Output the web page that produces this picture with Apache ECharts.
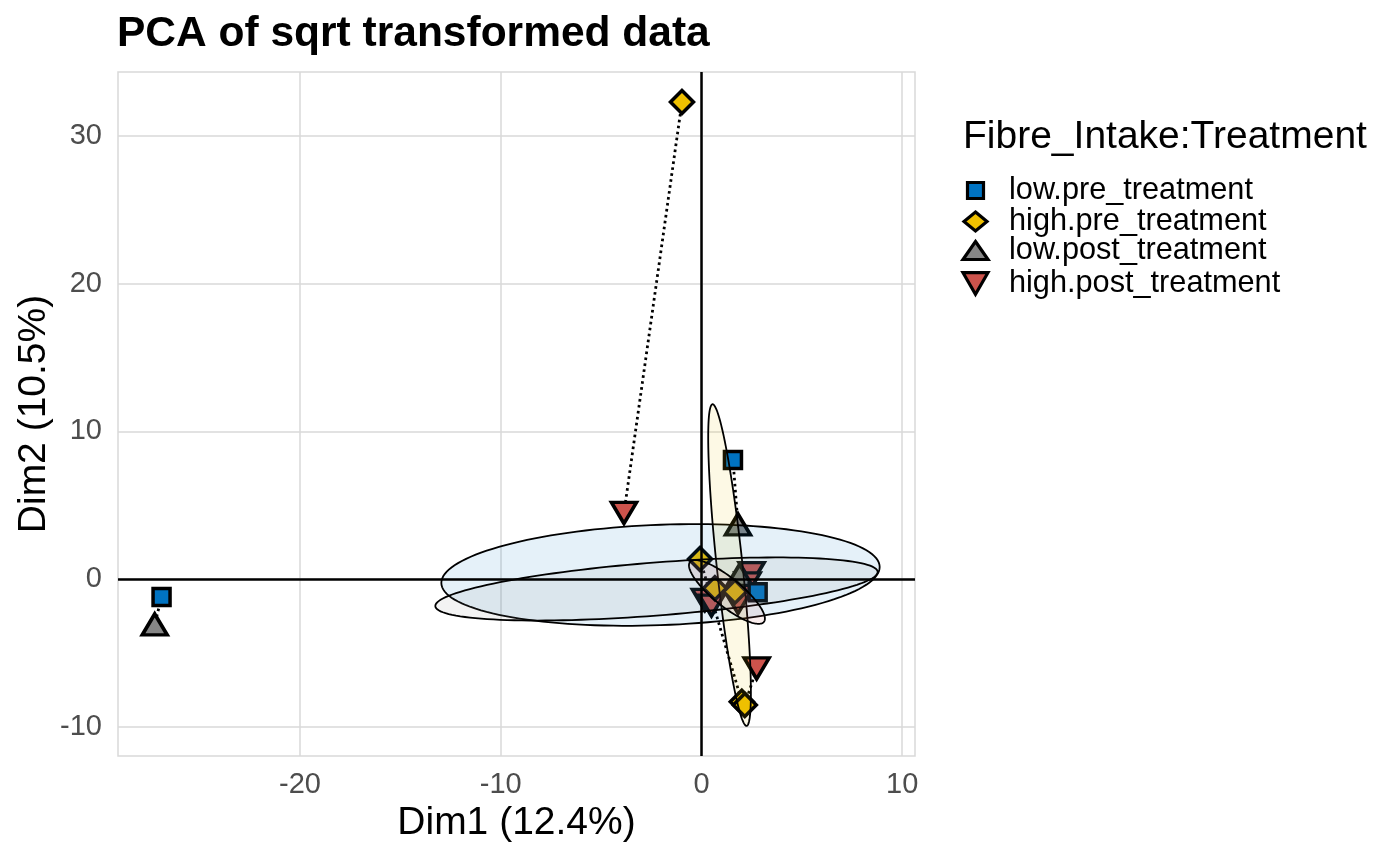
<!DOCTYPE html>
<html>
<head>
<meta charset="utf-8">
<title>PCA of sqrt transformed data</title>
<script src="https://cdn.jsdelivr.net/npm/echarts@6/dist/echarts.min.js"></script>
<style>
  html, body { margin: 0; padding: 0; background: #fff; }
  #main { width: 1400px; height: 860px; }
</style>
</head>
<body>
<div id="main"></div>
<script>
// groups, in legend order
const groupNames = ['low.pre_treatment', 'high.pre_treatment', 'low.post_treatment', 'high.post_treatment'];
const groupColors = ['#0073C2', '#EFC000', '#868686', '#CD534C'];
const groupSymbols = ['rect', 'diamond', 'triangle', 'triangle'];
const groupRotate = [0, 0, 0, 180];
// legend icons (down triangle drawn as a path, legend does not rotate it)
const legendIcons = ['rect', 'diamond', 'triangle', 'path://M0,0L10,0L5,8.66Z'];

// points: [Dim1, Dim2, subject]
const lowPre = [[-26.9, -1.22, 's1'], [1.57, 8.06, 's2'], [2.8, -0.9, 'a1']];
const highPre = [[-0.97, 32.3, 's4'], [-0.07, 1.35, 's5'], [0.67, -0.63, 'b1'], [1.67, -0.86, 'b2'], [2.01, -8.32, 's5'], [2.16, -8.53, 's6']];
const lowPost = [[-27.24, -3.08, 's1'], [1.82, 3.69, 's2'], [1.9, 0.27, 'c1']];
const highPost = [[-3.86, 4.47, 's4'], [2.75, -6.06, 's6'], [2.5, 0.4, 'd1'], [2.3, -0.3, 'd2'], [0.17, -1.42, 'd3'], [0.5, -1.8, 'd4'], [1.82, -1.62, 'd5']];
const groupPoints = [lowPre, highPre, lowPost, highPost];

// axis ticks
const xTicks = [-20, -10, 0, 10];
const yTicks = [-10, 0, 10, 20, 30];

// confidence ellipses per group: centre, semi-axis a, conjugate semi-axis b
const ellipseCentre = [[-2.04, 0.27], [1.40, 0.94], [-2.24, -0.68], [1.27, -0.88]];
const ellipseA = [[10.92, 0.54], [-0.85, 10.89], [11.02, 1.15], [1.84, -2.03]];
const ellipseB = [[0, 3.4], [0.64, 0.09], [0, 1.8], [-0.44, -0.74]];

const font = '"Liberation Sans", Arial, Helvetica, sans-serif';
const markerSize = [[17, 17], [23, 23], [25, 21], [25, 21]];
const legendSize = [[16, 16], [23, 19], [25, 18], [25, 21.6]];
const legendRowY = [188, 219, 248, 281];

// dotted pre -> post paths, joined by subject
const bySubject = {};
groupPoints.forEach(pts => pts.forEach(p => {
  (bySubject[p[2]] = bySubject[p[2]] || []).push([p[0], p[1]]);
}));
const pathData = [];
for (const key in bySubject) {
  if (bySubject[key].length > 1) pathData.push({ coords: bySubject[key] });
}

function renderEllipse(params, api) {
  const i = api.value(2);
  const c = ellipseCentre[i], a = ellipseA[i], b = ellipseB[i];
  const pts = [];
  for (let k = 0; k < 144; k++) {
    const t = 2 * Math.PI * k / 144;
    pts.push(api.coord([
      c[0] + a[0] * Math.cos(t) + b[0] * Math.sin(t),
      c[1] + a[1] * Math.cos(t) + b[1] * Math.sin(t)
    ]));
  }
  return {
    type: 'polygon',
    shape: { points: pts },
    style: { fill: groupColors[i], fillOpacity: 0.1, stroke: '#000', lineWidth: 1.8 }
  };
}

// draw order: red, grey, yellow, blue
const drawOrder = [3, 2, 1, 0];
const scatterSeries = drawOrder.map(i => ({
  type: 'scatter',
  name: groupNames[i],
  data: groupPoints[i].map(p => [p[0], p[1]]),
  symbol: groupSymbols[i],
  symbolSize: markerSize[i],
  symbolRotate: groupRotate[i],
  itemStyle: { color: groupColors[i], borderColor: '#000', borderWidth: 3.5, opacity: 1 },
  z: 3,
  silent: true
}));

const legends = groupNames.map((name, i) => ({
  data: [{ name: name, icon: legendIcons[i] }],
  orient: 'vertical',
  left: 975.5 - legendSize[i][0] / 2 - 1.6,
  top: legendRowY[i] - 13,
  padding: 0,
  itemWidth: legendSize[i][0],
  itemHeight: legendSize[i][1],
  symbolRotate: 0,
  itemStyle: { color: groupColors[i], borderColor: '#000', borderWidth: 3.2 },
  selectedMode: false,
  textStyle: {
    fontSize: 30.7, color: '#000', fontFamily: font,
    padding: [0, 0, 0, 1009 - (975.5 + legendSize[i][0] / 2 + 5)]
  }
}));

const chart = echarts.init(document.getElementById('main'));
chart.setOption({
  animation: false,
  backgroundColor: '#fff',
  textStyle: { fontFamily: font },
  title: [
    { text: 'PCA of sqrt transformed data', left: 117, top: 13, padding: 0,
      textStyle: { fontSize: 42.5, fontWeight: 'bold', color: '#000', fontFamily: font } },
    { text: 'Fibre_Intake:Treatment', left: 963, top: 118, padding: 0,
      textStyle: { fontSize: 39, fontWeight: 'normal', color: '#000', fontFamily: font } }
  ],
  legend: legends,
  grid: {
    left: 118, right: 485, top: 72, bottom: 104,
    show: true, borderColor: '#d9d9d9', borderWidth: 1.5, backgroundColor: 'transparent',
    outerBoundsMode: 'none'
  },
  xAxis: {
    type: 'value', min: -29.07, max: 10.64,
    name: 'Dim1 (12.4%)', nameLocation: 'middle', nameGap: 48, nameMoveOverlap: false,
    nameTextStyle: { fontSize: 39, color: '#000', fontFamily: font },
    axisLine: { show: false },
    axisTick: { show: false, customValues: xTicks },
    axisLabel: { customValues: xTicks, fontSize: 29, color: '#4d4d4d', margin: 14, fontFamily: font },
    splitLine: { show: true, lineStyle: { color: '#d9d9d9', width: 1.5 } }
  },
  yAxis: {
    type: 'value', min: -11.99, max: 34.33,
    name: 'Dim2 (10.5%)', nameLocation: 'middle', nameGap: 64, nameMoveOverlap: false,
    nameTextStyle: { fontSize: 39, color: '#000', fontFamily: font },
    axisLine: { show: false },
    axisTick: { show: false, customValues: yTicks },
    axisLabel: { customValues: yTicks, fontSize: 29, color: '#4d4d4d', margin: 16, fontFamily: font },
    splitLine: { show: true, lineStyle: { color: '#d9d9d9', width: 1.5 } }
  },
  series: [
    {
      type: 'scatter', name: 'zero', data: [], z: 1, silent: true,
      markLine: {
        silent: true, symbol: ['none', 'none'], label: { show: false },
        lineStyle: { color: '#000', width: 2.5, type: 'solid' },
        data: [{ xAxis: 0 }, { yAxis: 0 }]
      }
    },
    {
      type: 'lines', coordinateSystem: 'cartesian2d', name: 'paths', z: 2, silent: true,
      data: pathData,
      lineStyle: { color: '#000', width: 2.8, type: [2.6, 3.4], opacity: 1, curveness: 0 }
    },
    ...scatterSeries,
    {
      type: 'custom', name: 'ellipses', z: 4, silent: true,
      renderItem: renderEllipse,
      data: ellipseCentre.map((c, i) => [c[0], c[1], i]),
      encode: { x: 0, y: 1 }
    }
  ]
});
</script>
</body>
</html>
